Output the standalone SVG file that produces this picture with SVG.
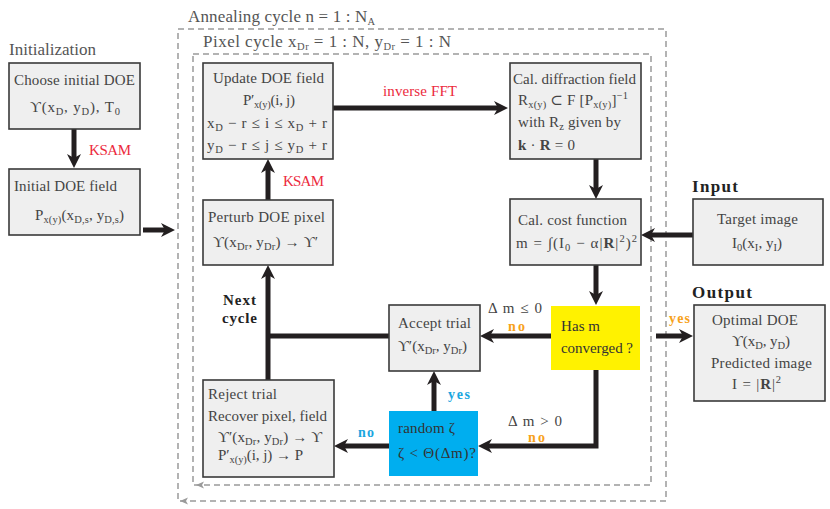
<svg xmlns="http://www.w3.org/2000/svg" width="830" height="509" viewBox="0 0 830 509">
<style>
.box{fill:#efefef;stroke:#3a3a3a;stroke-width:1.6}
.t{font-size:15px;fill:#444}
.h{font-size:17px;fill:#555}
.b{font-size:17px;font-weight:bold;fill:#222}
.nc{font-size:15px;font-weight:bold;fill:#222}
.red{font-size:15px;fill:#ec2a3d}
.or{font-size:14px;font-weight:bold;fill:#f7a21b}
.bl{font-size:14px;font-weight:bold;fill:#1aa6e0}
.s{font-size:10.5px}
.dk{fill:#333}
.conn path{stroke:#231f20;stroke-width:5;fill:none;stroke-linejoin:miter}
.dash{fill:none;stroke:#9a9a9a;stroke-width:1.5;stroke-dasharray:6 4}
</style>
<defs>
<marker id="ah" viewBox="0 0 14 14" refX="4" refY="7" markerWidth="14" markerHeight="14" markerUnits="userSpaceOnUse" orient="auto">
<path d="M0,0 L14,7 L0,14 L4,7 z" fill="#231f20"/>
</marker>
</defs>
<g font-family="Liberation Serif, DejaVu Serif, serif" lengthAdjust="spacing">

<g id="annealing">
<rect class="dash" x="178" y="29" width="488" height="472"/>
<path d="M180,501 L188,497.5 L186,501 L188,504.5 z" fill="#9a9a9a"/>
<text class="h" x="188" y="22" textLength="187">Annealing cycle n = 1 : N<tspan class="s" dy="3">A</tspan></text>
</g>
<g id="pixel">
<rect class="dash" x="193" y="54" width="458" height="431"/>
<path d="M196,485 L204,481.5 L202,485 L204,488.5 z" fill="#9a9a9a"/>
<text class="h" x="203" y="47" textLength="248">Pixel cycle x<tspan class="s" dy="3">Dr</tspan><tspan dy="-3"> = 1 : N,   y</tspan><tspan class="s" dy="3">Dr</tspan><tspan dy="-3"> = 1 : N</tspan></text>
</g>

<text class="h" x="9" y="55" textLength="87">Initialization</text>
<text class="b" x="692" y="192" textLength="46">Input</text>
<text class="b" x="692" y="298" textLength="60">Output</text>

<g class="conn">
<path d="M74,129 V158" marker-end="url(#ah)"/>
<path d="M143,230 H165" marker-end="url(#ah)"/>
<path d="M333,108 H498" marker-end="url(#ah)"/>
<path d="M596,159 V189" marker-end="url(#ah)"/>
<path d="M693,235 H651" marker-end="url(#ah)"/>
<path d="M596,265 V295" marker-end="url(#ah)"/>
<path d="M656,336 H683" marker-end="url(#ah)"/>
<path d="M551,336 H490" marker-end="url(#ah)"/>
<path d="M389,336 H268"/>
<path d="M268,380 V275" marker-end="url(#ah)"/>
<path d="M268,200 V169" marker-end="url(#ah)"/>
<path d="M434,411 V381" marker-end="url(#ah)"/>
<path d="M389,446 H344" marker-end="url(#ah)"/>
<path d="M596,370 V446 H488" marker-end="url(#ah)"/>
</g>

<g id="labels">
<text class="red" x="89" y="155" textLength="42">KSAM</text>
<text class="red" x="283" y="186" textLength="41">KSAM</text>
<text class="red" x="383" y="96" textLength="74">inverse FFT</text>
<text class="or" x="669" y="323" textLength="21">yes</text>
<text class="t" x="488" y="313" textLength="54">Δ m ≤ 0</text>
<text class="or" x="508" y="331" textLength="17">no</text>
<text class="t" x="508" y="426" textLength="54">Δ m &gt; 0</text>
<text class="or" x="528" y="442" textLength="17">no</text>
<text class="bl" x="448" y="399" textLength="22">yes</text>
<text class="bl" x="358" y="437" textLength="16">no</text>
<text class="nc" x="223" y="305" textLength="33">Next</text>
<text class="nc" x="222" y="323" textLength="35">cycle</text>
</g>

<g id="choose">
<rect class="box" x="9" y="63" width="131" height="66"/>
<text class="t" x="14" y="85" textLength="121">Choose initial DOE</text>
<text class="t" x="30" y="112" textLength="90">ϒ(x<tspan class="s" dy="3">D</tspan><tspan dy="-3">, y</tspan><tspan class="s" dy="3">D</tspan><tspan dy="-3">),  T</tspan><tspan class="s" dy="3">0</tspan></text>
</g>

<g id="initial">
<rect class="box" x="9" y="169" width="131" height="66"/>
<text class="t" x="14" y="191" textLength="103">Initial DOE field</text>
<text class="t" x="35" y="220" textLength="89">P<tspan class="s" dy="3">x(y)</tspan><tspan dy="-3">(x</tspan><tspan class="s" dy="3">D,s</tspan><tspan dy="-3">, y</tspan><tspan class="s" dy="3">D,s</tspan><tspan dy="-3">)</tspan></text>
</g>

<g id="update">
<rect class="box" x="203" y="63" width="130" height="96"/>
<text class="t" x="213" y="83" textLength="111">Update DOE field</text>
<text class="t" x="243" y="105" textLength="52">P′<tspan class="s" dy="3">x(y)</tspan><tspan dy="-3">(i, j)</tspan></text>
<text class="t" x="207" y="128" textLength="120">x<tspan class="s" dy="3">D</tspan><tspan dy="-3"> − r ≤ i ≤ x</tspan><tspan class="s" dy="3">D</tspan><tspan dy="-3"> + r</tspan></text>
<text class="t" x="207" y="150" textLength="120">y<tspan class="s" dy="3">D</tspan><tspan dy="-3"> − r ≤ j ≤ y</tspan><tspan class="s" dy="3">D</tspan><tspan dy="-3"> + r</tspan></text>
</g>

<g id="diffraction">
<rect class="box" x="510" y="63" width="131" height="96"/>
<text class="t" x="513" y="84" textLength="123">Cal. diffraction field</text>
<text class="t" x="518" y="105" textLength="110">R<tspan class="s" dy="3">x(y)</tspan><tspan dy="-3"> ⊂ F [P</tspan><tspan class="s" dy="3">x(y)</tspan><tspan dy="-3">]</tspan><tspan class="s" dy="-6">−1</tspan></text>
<text class="t" x="518" y="127" textLength="103">with R<tspan class="s" dy="3">z</tspan><tspan dy="-3"> given by</tspan></text>
<text class="t" x="518" y="150" textLength="57"><tspan font-weight="bold">k</tspan> · <tspan font-weight="bold">R</tspan> = 0</text>
</g>

<g id="cost">
<rect class="box" x="510" y="199" width="131" height="66"/>
<text class="t" x="518" y="225" textLength="109">Cal. cost function</text>
<text class="t" x="516" y="248" textLength="121">m = ∫(I<tspan class="s" dy="3">0</tspan><tspan dy="-3"> − α|</tspan><tspan font-weight="bold">R</tspan>|<tspan class="s" dy="-6">2</tspan><tspan dy="6">)</tspan><tspan class="s" dy="-6">2</tspan></text>
</g>

<g id="target">
<rect class="box" x="693" y="199" width="130" height="66"/>
<text class="t" x="717" y="224" textLength="81">Target image</text>
<text class="t" x="732" y="248" textLength="50">I<tspan class="s" dy="3">0</tspan><tspan dy="-3">(x</tspan><tspan class="s" dy="3">I</tspan><tspan dy="-3">, y</tspan><tspan class="s" dy="3">I</tspan><tspan dy="-3">)</tspan></text>
</g>

<g id="converged">
<rect x="551" y="306" width="89" height="64" fill="#fff200"/>
<text class="t dk" x="561" y="331" textLength="39">Has m</text>
<text class="t dk" x="561" y="353" textLength="72">converged ?</text>
</g>

<g id="output">
<rect class="box" x="694" y="305" width="131" height="96"/>
<text class="t" x="712" y="325" textLength="86">Optimal DOE</text>
<text class="t" x="732" y="346" textLength="58">ϒ(x<tspan class="s" dy="3">D</tspan><tspan dy="-3">, y</tspan><tspan class="s" dy="3">D</tspan><tspan dy="-3">)</tspan></text>
<text class="t" x="711" y="368" textLength="101">Predicted image</text>
<text class="t" x="732" y="389" textLength="49">I = |<tspan font-weight="bold">R</tspan>|<tspan class="s" dy="-6">2</tspan></text>
</g>

<g id="accept">
<rect class="box" x="389" y="305" width="91" height="66"/>
<text class="t" x="398" y="328" textLength="73">Accept trial</text>
<text class="t" x="398" y="351" textLength="69">ϒ′(x<tspan class="s" dy="3">Dr</tspan><tspan dy="-3">, y</tspan><tspan class="s" dy="3">Dr</tspan><tspan dy="-3">)</tspan></text>
</g>

<g id="perturb">
<rect class="box" x="203" y="200" width="130" height="65"/>
<text class="t" x="208" y="222" textLength="117">Perturb DOE pixel</text>
<text class="t" x="213" y="247" textLength="105">ϒ(x<tspan class="s" dy="3">Dr</tspan><tspan dy="-3">, y</tspan><tspan class="s" dy="3">Dr</tspan><tspan dy="-3">) → ϒ′</tspan></text>
</g>

<g id="reject">
<rect class="box" x="203" y="380" width="131" height="97"/>
<text class="t" x="208" y="399" textLength="69">Reject trial</text>
<text class="t" x="208" y="421" textLength="119">Recover pixel,  field</text>
<text class="t" x="218" y="442" textLength="104">ϒ′(x<tspan class="s" dy="3">Dr</tspan><tspan dy="-3">, y</tspan><tspan class="s" dy="3">Dr</tspan><tspan dy="-3">) → ϒ</tspan></text>
<text class="t" x="218" y="460" textLength="85">P′<tspan class="s" dy="3">x(y)</tspan><tspan dy="-3">(i, j) → P</tspan></text>
</g>

<g id="random">
<rect x="389" y="411" width="89" height="65" fill="#00aeef"/>
<text class="t dk" x="398" y="433" textLength="57">random ζ</text>
<text class="t dk" x="398" y="458" textLength="78">ζ &lt; Θ(Δm)?</text>
</g>
</g>
</svg>
